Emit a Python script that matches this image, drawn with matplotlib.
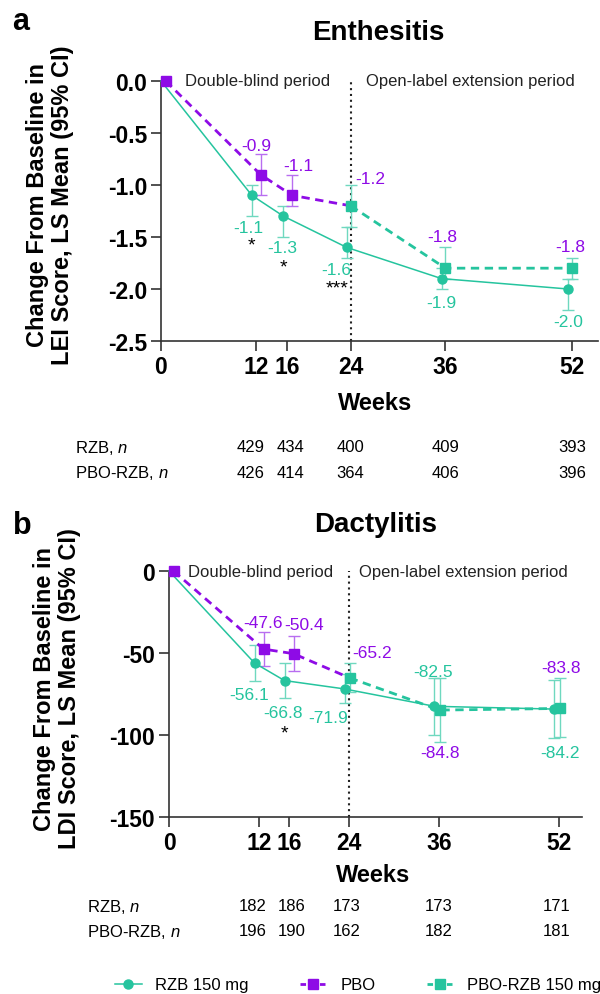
import numpy as np
import matplotlib
matplotlib.use('Agg')
import matplotlib.pyplot as plt
import matplotlib.transforms as mtransforms
from matplotlib.lines import Line2D

plt.rcParams['font.family'] = ['Liberation Sans', 'DejaVu Sans']
plt.rcParams['mathtext.fontset'] = 'custom'
plt.rcParams['mathtext.rm'] = 'Liberation Sans'
plt.rcParams['mathtext.it'] = 'Liberation Sans:italic'

GREEN = '#25C49E'
GREEN_ERR = '#6FD8BF'
PURPLE = '#8E0BE6'
PURPLE_ERR = '#B86EF0'
AXCOL = '#333333'

# ---- data ----
weeks = [0, 12, 16, 24, 36, 52]
pbo_weeks = [0, 12, 16]
ext_weeks = [24, 36, 52]

# Enthesitis (LEI)
ent_rzb = [0, -1.1, -1.3, -1.6, -1.9, -2.0]
ent_rzb_lo = [0, -1.3, -1.5, -1.7, -2.0, -2.2]
ent_rzb_hi = [0, -1.0, -1.2, -1.4, -1.8, -1.9]
ent_pbo = [0, -0.9, -1.1]
ent_pbo_lo = [0, -1.1, -1.2]
ent_pbo_hi = [0, -0.7, -0.9]
ent_ext = [-1.2, -1.8, -1.8]
ent_ext_lo = [-1.4, -1.9, -1.9]
ent_ext_hi = [-1.0, -1.6, -1.7]
ent_stars = ['', '*', '*', '***', '', '']
ent_n_rzb = [429, 434, 400, 409, 393]
ent_n_pbo = [426, 414, 364, 406, 396]
ent_yticks = [0.0, -0.5, -1.0, -1.5, -2.0, -2.5]

# Dactylitis (LDI)
dac_rzb = [0, -56.1, -66.8, -71.9, -82.5, -84.2]
dac_rzb_lo = [0, -67.0, -77.6, -80.5, -100.0, -102.0]
dac_rzb_hi = [0, -45.1, -56.0, -63.0, -65.0, -66.5]
dac_pbo = [0, -47.6, -50.4]
dac_pbo_lo = [0, -57.7, -60.8]
dac_pbo_hi = [0, -37.4, -39.8]
dac_ext = [-65.2, -84.8, -83.8]
dac_ext_lo = [-74.0, -104.0, -101.0]
dac_ext_hi = [-56.0, -65.5, -65.5]
dac_stars = ['', '', '*', '', '', '']
dac_n_rzb = [182, 186, 173, 173, 171]
dac_n_pbo = [196, 190, 162, 182, 181]
dac_yticks = [0, -50, -100, -150]

n_weeks = [12, 16, 24, 36, 52]


def errs(v, lo, hi):
    v, lo, hi = np.array(v), np.array(lo), np.array(hi)
    return [v - lo, hi - v]


def panel(ax, rzb, rzb_lo, rzb_hi, pbo, pbo_lo, pbo_hi, ext, ext_lo, ext_hi,
          stars, yticks, ylabels, shifts, rzb_off, pbo_off, ext_off, star_off):
    s_r, s_p, s_e = shifts
    xr = np.array(weeks, dtype=float) + np.where(np.array(weeks) == 0, 0, s_r)
    xp = np.array(pbo_weeks, dtype=float) + s_p
    xe = np.array(ext_weeks, dtype=float) + s_e

    # RZB solid line
    ax.plot(xr, rzb, color=GREEN, lw=1.1, marker='o', ms=6.5,
            markevery=list(range(1, len(xr))), clip_on=False, zorder=6)
    ax.errorbar(xr[1:], rzb[1:], yerr=errs(rzb[1:], rzb_lo[1:], rzb_hi[1:]),
                fmt='none', ecolor=GREEN_ERR, elinewidth=1.0, capsize=4.5,
                capthick=1.0, zorder=3)

    # PBO dashed line (up to week 24 switch)
    ax.plot(list(xp) + [xe[0]], list(pbo) + [ext[0]], color=PURPLE, lw=2,
            ls=(0, (3, 2)), clip_on=False, zorder=4)
    ax.plot(xp, pbo, 's', color=PURPLE, ms=6.5, clip_on=False, zorder=7)
    ax.errorbar(xp[1:], pbo[1:], yerr=errs(pbo[1:], pbo_lo[1:], pbo_hi[1:]),
                fmt='none', ecolor=PURPLE_ERR, elinewidth=1.0, capsize=4.5,
                capthick=1.0, zorder=3)

    # PBO-RZB extension
    ax.plot(xe, ext, color=GREEN, lw=2, ls=(0, (3, 2)), marker='s', ms=6.5,
            clip_on=False, zorder=5)
    ax.errorbar(xe, ext, yerr=errs(ext, ext_lo, ext_hi), fmt='none',
                ecolor=GREEN_ERR, elinewidth=1.0, capsize=4.5, capthick=1.0,
                zorder=3)

    fmt = '{:.1f}'
    for i in range(1, len(xr)):
        ax.annotate(fmt.format(rzb[i]), (xr[i], rzb[i]), xytext=rzb_off[i],
                    textcoords='offset pixels', ha='center', va='center',
                    color=GREEN, fontsize=12.5, zorder=8)
        if stars[i]:
            ax.annotate(stars[i], (xr[i], rzb[i]), xytext=star_off[i],
                        textcoords='offset pixels', ha='center', va='center',
                        color='black', fontsize=14, zorder=8)
    for i in range(1, len(xp)):
        ax.annotate(fmt.format(pbo[i]), (xp[i], pbo[i]), xytext=pbo_off[i],
                    textcoords='offset pixels', ha='center', va='center',
                    color=PURPLE, fontsize=12.5, zorder=8)
    for i in range(len(xe)):
        ax.annotate(fmt.format(ext[i]), (xe[i], ext[i]), xytext=ext_off[i],
                    textcoords='offset pixels', ha='center', va='center',
                    color=PURPLE, fontsize=12.5, zorder=8)

    ax.axvline(24, color='#222222', lw=1.5, ls=(0, (1, 1.8)), zorder=2)
    ax.text(12.2, yticks[0], 'Double-blind period', ha='center', va='center',
            fontsize=12, color='#222222')
    ax.text(39.2, yticks[0], 'Open-label extension period', ha='center',
            va='center', fontsize=12, color='#222222')

    ax.set_ylim(yticks[-1], yticks[0])
    ax.set_xticks(weeks)
    ax.set_xticklabels([str(w) for w in weeks], fontweight='bold')
    ax.set_yticks(yticks)
    ax.set_yticklabels(ylabels, fontweight='bold')
    for side in ['top', 'right']:
        ax.spines[side].set_visible(False)
    for side in ['left', 'bottom']:
        ax.spines[side].set_linewidth(1.2)
        ax.spines[side].set_color(AXCOL)
    ax.tick_params(axis='both', direction='out', length=7, width=1.2,
                   color=AXCOL, labelsize=16.5, pad=3)


def n_table(fig, ax, label_x, y1, y2, n1, n2, shift):
    trans = mtransforms.blended_transform_factory(ax.transData, fig.transFigure)
    fig.text(label_x, y1, 'RZB, $n$', fontsize=12, va='center')
    fig.text(label_x, y2, 'PBO-RZB, $n$', fontsize=12, va='center')
    for w, s, a, b in zip(n_weeks, shift, n1, n2):
        ax.text(w + s, y1, str(a), transform=trans, ha='center', va='center',
                fontsize=12)
        ax.text(w + s, y2, str(b), transform=trans, ha='center', va='center',
                fontsize=12)


fig = plt.figure(figsize=(6, 9.95), dpi=100)

# ---- panel a ----
ax1 = fig.add_axes([0.2683, 0.6563, 0.7283, 0.2613])
ax1.set_xlim(0, 55.3)
panel(ax1, ent_rzb, ent_rzb_lo, ent_rzb_hi, ent_pbo, ent_pbo_lo, ent_pbo_hi,
      ent_ext, ent_ext_lo, ent_ext_hi, ent_stars, ent_yticks,
      ['{:.1f}'.format(v) for v in ent_yticks], (-0.5, 0.6, 0.0),
      [None, (-4, -32), (-1, -31), (-10, -22), (0, -24), (0, -33)],
      [None, (-4, 29), (6, 30)],
      [(20, 27), (-3, 32), (-2, 22)],
      [None, (0, -50), (0, -51), (-10, -41), None, None])

fig.text(0.083, 0.794, 'Change From Baseline in\nLEI Score, LS Mean (95% CI)',
         rotation=90, ha='center', va='center', fontsize=17, fontweight='bold',
         linespacing=1.1)
fig.text(378 / 600, 1 - 33 / 995, 'Enthesitis', ha='center', va='center',
         fontsize=20, fontweight='bold')
fig.text(21 / 600, 1 - 22 / 995, 'a', ha='center', va='center', fontsize=22,
         fontweight='bold')
fig.text(375 / 600, 1 - 403 / 995, 'Weeks', ha='center', va='center',
         fontsize=17, fontweight='bold')
n_table(fig, ax1, 75 / 600, 1 - 448 / 995, 1 - 473 / 995, ent_n_rzb, ent_n_pbo,
        [-0.7, 0.4, 0, 0, 0])

# ---- panel b ----
ax2 = fig.add_axes([0.2817, 0.1779, 0.6883, 0.2472])
ax2.set_xlim(0, 55.07)
panel(ax2, dac_rzb, dac_rzb_lo, dac_rzb_hi, dac_pbo, dac_pbo_lo, dac_pbo_hi,
      dac_ext, dac_ext_lo, dac_ext_hi, dac_stars, dac_yticks,
      [str(v) for v in dac_yticks], (-0.6, 0.6, 0.1),
      [None, (-5, -31), (-2, -32), (-16, -29), (-1, 35), (6, -43)],
      [None, (-1, 27), (11, 29)],
      [(22, 25), (0, -42), (1, 41)],
      [None, None, (0, -52), None, None, None])

fig.text(0.095, 0.3075, 'Change From Baseline in\nLDI Score, LS Mean (95% CI)',
         rotation=90, ha='center', va='center', fontsize=17, fontweight='bold',
         linespacing=1.1)
fig.text(376 / 600, 1 - 525 / 995, 'Dactylitis', ha='center', va='center',
         fontsize=20, fontweight='bold')
fig.text(22 / 600, 1 - 526 / 995, 'b', ha='center', va='center', fontsize=22,
         fontweight='bold')
fig.text(373 / 600, 1 - 876 / 995, 'Weeks', ha='center', va='center',
         fontsize=17, fontweight='bold')
n_table(fig, ax2, 87 / 600, 1 - 907 / 995, 1 - 932 / 995, dac_n_rzb, dac_n_pbo,
        [-0.8, 0.4, -0.3, -0.1, -0.3])

# ---- legend ----
handles = [
    Line2D([], [], color=GREEN, lw=1.1, marker='o', ms=6.5),
    Line2D([], [], color=PURPLE, lw=2, ls=(0, (2, 1.5)), marker='s', ms=6.5),
    Line2D([], [], color=GREEN, lw=2, ls=(0, (2, 1.5)), marker='s', ms=6.5),
]
fig.legend(handles, ['RZB 150 mg', 'PBO', 'PBO-RZB 150 mg'], loc='center',
           bbox_to_anchor=(358 / 600, 1 - 986 / 995), ncol=3, frameon=False,
           fontsize=12, handlelength=1.6, handletextpad=0.8,
           columnspacing=3.1, borderpad=0)

fig.savefig('out.png', dpi=100)
